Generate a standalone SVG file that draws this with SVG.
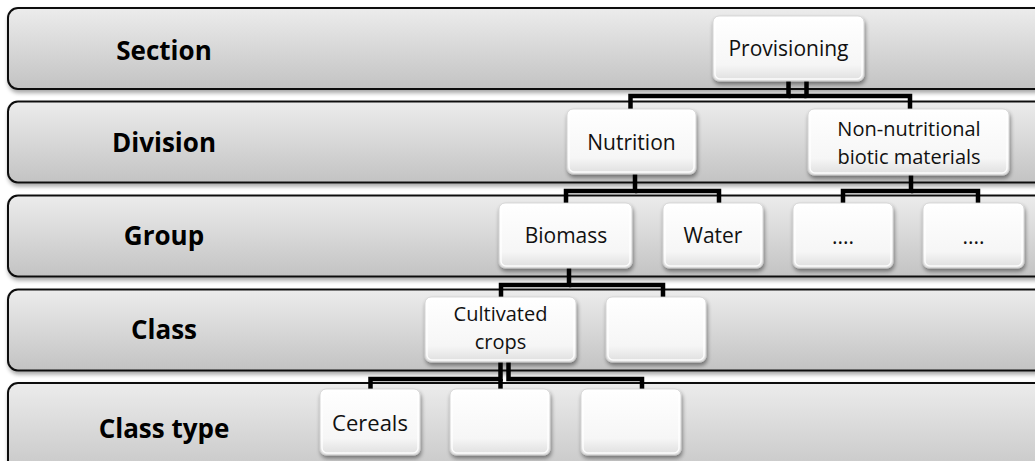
<svg xmlns="http://www.w3.org/2000/svg" width="1035" height="461" viewBox="0 0 1035 461">
<defs>
<linearGradient id="bandG" x1="0" y1="0" x2="0" y2="1">
<stop offset="0" stop-color="#ececec"/>
<stop offset="1" stop-color="#c3c3c3"/>
</linearGradient>
<linearGradient id="boxG" x1="0" y1="0" x2="0" y2="1">
<stop offset="0" stop-color="#ffffff"/>
<stop offset="0.75" stop-color="#f6f6f6"/>
<stop offset="1" stop-color="#dedede"/>
</linearGradient>
<filter id="bandSh" x="-5%" y="-20%" width="110%" height="150%">
<feGaussianBlur in="SourceAlpha" stdDeviation="2"/>
<feOffset dx="1" dy="3" result="b"/>
<feComponentTransfer><feFuncA type="linear" slope="0.35"/></feComponentTransfer>
<feMerge><feMergeNode/><feMergeNode in="SourceGraphic"/></feMerge>
</filter>
<filter id="boxSh" x="-20%" y="-20%" width="140%" height="150%">
<feGaussianBlur in="SourceAlpha" stdDeviation="2.2"/>
<feOffset dx="1" dy="3" result="b"/>
<feComponentTransfer><feFuncA type="linear" slope="0.45"/></feComponentTransfer>
<feMerge><feMergeNode/><feMergeNode in="SourceGraphic"/></feMerge>
</filter>
</defs>
<style>
.band{fill:url(#bandG);stroke:#111;stroke-width:2;filter:url(#bandSh)}
.lbl{font-family:"Open Sans","Liberation Sans",sans-serif;font-weight:bold;font-size:26px;fill:#000;text-anchor:middle}
.box{fill:url(#boxG);stroke:#cfcfcf;stroke-width:0.8;filter:url(#boxSh)}
.hl{fill:none;stroke:#ffffff;stroke-width:1.5;opacity:0.9}
.txt{font-family:"Open Sans","Liberation Sans",sans-serif;font-size:21px;fill:#111;text-anchor:middle}
.two{font-size:20px}
.con{fill:none;stroke:#000;stroke-width:4.5;stroke-linejoin:miter;stroke-linecap:butt}
</style>
<rect width="1035" height="461" fill="#ffffff"/>

<g id="band-section"><rect class="band" x="8" y="8" width="1050" height="81" rx="10"/><text class="lbl" x="164" y="60">Section</text></g>
<g id="band-division"><rect class="band" x="8" y="101.5" width="1050" height="81" rx="10"/><text class="lbl" x="164" y="152">Division</text></g>
<g id="band-group"><rect class="band" x="8" y="195.5" width="1050" height="81" rx="10"/><text class="lbl" x="164" y="245">Group</text></g>
<g id="band-class"><rect class="band" x="8" y="289.5" width="1050" height="81" rx="10"/><text class="lbl" x="164" y="339">Class</text></g>
<g id="band-classtype"><rect class="band" x="8" y="383" width="1050" height="100" rx="10"/><text class="lbl" x="164" y="438">Class type</text></g>

<g id="connectors">
<path class="con" d="M788.5,81 V96 H630.5 V109"/>
<path class="con" d="M806.5,81 V96 H910 V109"/>
<path class="con" d="M788.5,96 H806.5"/>
<path class="con" d="M635,174 V191 H566 V203"/>
<path class="con" d="M635,191 H719 V203"/>
<path class="con" d="M911,175 V191 H843 V203"/>
<path class="con" d="M911,191 H978 V203"/>
<path class="con" d="M569,268 V285 H501 V297"/>
<path class="con" d="M569,285 H663 V297"/>
<path class="con" d="M500.5,362 V379 H370.5 V389"/>
<path class="con" d="M508.5,362 V379 H642 V389"/>
<path class="con" d="M500.5,379 V389"/>
</g>

<g id="node-provisioning"><rect class="box" x="713" y="16" width="151" height="65" rx="6"/><rect class="hl" x="715" y="18" width="147" height="61" rx="5"/><text class="txt" x="788.5" y="56">Provisioning</text></g>
<g id="node-nutrition"><rect class="box" x="567" y="109" width="129" height="65" rx="6"/><rect class="hl" x="569" y="111" width="125" height="61" rx="5"/><text class="txt" x="631.5" y="150">Nutrition</text></g>
<g id="node-nonnutritional"><rect class="box" x="808" y="109" width="201" height="66" rx="6"/><rect class="hl" x="810" y="111" width="197" height="62" rx="5"/><text class="txt two" x="909" y="136">Non-nutritional</text><text class="txt two" x="909" y="164">biotic materials</text></g>
<g id="node-biomass"><rect class="box" x="499" y="203" width="133" height="65" rx="6"/><rect class="hl" x="501" y="205" width="129" height="61" rx="5"/><text class="txt" x="566" y="243">Biomass</text></g>
<g id="node-water"><rect class="box" x="663" y="203" width="100" height="65" rx="6"/><rect class="hl" x="665" y="205" width="96" height="61" rx="5"/><text class="txt" x="713" y="243">Water</text></g>
<g id="node-dots1"><rect class="box" x="793" y="203" width="100" height="65" rx="6"/><rect class="hl" x="795" y="205" width="96" height="61" rx="5"/><text class="txt" x="843" y="244">....</text></g>
<g id="node-dots2"><rect class="box" x="923" y="203" width="101" height="65" rx="6"/><rect class="hl" x="925" y="205" width="97" height="61" rx="5"/><text class="txt" x="973.5" y="244">....</text></g>
<g id="node-cultivated"><rect class="box" x="425" y="297" width="151" height="65" rx="6"/><rect class="hl" x="427" y="299" width="147" height="61" rx="5"/><text class="txt two" x="500.5" y="321">Cultivated</text><text class="txt two" x="500.5" y="349">crops</text></g>
<g id="node-class2"><rect class="box" x="606" y="297" width="100" height="65" rx="6"/><rect class="hl" x="608" y="299" width="96" height="61" rx="5"/></g>
<g id="node-cereals"><rect class="box" x="320" y="389" width="100" height="66" rx="6"/><rect class="hl" x="322" y="391" width="96" height="62" rx="5"/><text class="txt" x="370" y="431" style="font-size:22px">Cereals</text></g>
<g id="node-ct2"><rect class="box" x="450" y="389" width="100" height="66" rx="6"/><rect class="hl" x="452" y="391" width="96" height="62" rx="5"/></g>
<g id="node-ct3"><rect class="box" x="581" y="389" width="100" height="66" rx="6"/><rect class="hl" x="583" y="391" width="96" height="62" rx="5"/></g>
</svg>
